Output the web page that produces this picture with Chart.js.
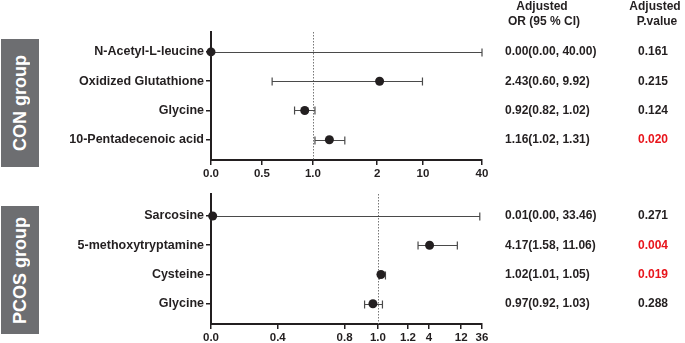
<!DOCTYPE html>
<html>
<head>
<meta charset="utf-8">
<script src="https://cdn.jsdelivr.net/npm/chart.js@4.4.1/dist/chart.umd.min.js"></script>
<style>
  body { margin: 0; background: #fff; }
  #wrap { position: relative; width: 685px; height: 343px; overflow: hidden; }
  canvas { position: absolute; left: 0; }
  .grp {
    position: absolute; left: 1px; width: 38px; background: #6d6e71;
    color: #fff; font: bold 18px "Liberation Sans", Arial, sans-serif;
    display: flex; align-items: center; justify-content: center;
  }
  .grp span { writing-mode: vertical-rl; transform: rotate(180deg); white-space: nowrap; }
</style>
</head>
<body>
<div id="wrap">
  <div class="grp" style="top:39px;height:128px"><span>CON group</span></div>
  <div class="grp" style="top:206px;height:128px"><span>PCOS group</span></div>
  <canvas id="conChart" width="685" height="190" style="top:0"></canvas>
  <canvas id="pcosChart" width="685" height="172" style="top:171px"></canvas>
</div>
<script>
// CON group
const conNames = ['N-Acetyl-L-leucine', 'Oxidized Glutathione', 'Glycine', '10-Pentadecenoic acid'];
const conOR = [0.00, 2.43, 0.92, 1.16];
const conLow = [0.00, 0.60, 0.82, 1.02];
const conHigh = [40.00, 9.92, 1.02, 1.31];
const conP = [0.161, 0.215, 0.124, 0.020];
const conTicks = [0, 0.5, 1, 2, 10, 40];
const conTickLabels = ['0.0', '0.5', '1.0', '2', '10', '40'];

// PCOS group
const pcosNames = ['Sarcosine', '5-methoxytryptamine', 'Cysteine', 'Glycine'];
const pcosOR = [0.01, 4.17, 1.02, 0.97];
const pcosLow = [0.00, 1.58, 1.01, 0.92];
const pcosHigh = [33.46, 11.06, 1.05, 1.03];
const pcosP = [0.271, 0.004, 0.019, 0.288];
const pcosTicks = [0, 0.4, 0.8, 1.0, 1.2, 4, 12, 36];
const pcosTickLabels = ['0.0', '0.4', '0.8', '1.0', '1.2', '4', '12', '36'];

// segmented x axis: [value, fraction of axis length]
const conSegments = [[0, 0], [1, 0.376], [1.35, 0.509], [2, 0.613], [10, 0.782], [40, 1]];
const pcosSegments = [[0, 0], [1, 0.616], [1.2, 0.727], [1.58, 0.764], [4, 0.804], [12, 0.923], [36, 1]];

const ink = '#231f20';
const font = '"Liberation Sans", Arial, sans-serif';

function segPos(v, segs) {
  for (let i = 0; i < segs.length - 1; i++) {
    const a = segs[i], b = segs[i + 1];
    if (v <= b[0]) return a[1] + (v - a[0]) / (b[0] - a[0]) * (b[1] - a[1]);
  }
  return 1;
}

function forestPlugin(low, high, or, p, segs, header) {
  return {
    id: 'forest',
    beforeDatasetsDraw(chart) {
      const ctx = chart.ctx, x = chart.scales.x, y = chart.scales.y, area = chart.chartArea;
      ctx.save();
      // reference line at OR = 1
      const x1 = Math.round(x.getPixelForValue(segPos(1, segs))) + 0.5;
      ctx.strokeStyle = '#777';
      ctx.lineWidth = 1;
      ctx.setLineDash([1.5, 1.5]);
      ctx.beginPath();
      ctx.moveTo(x1, area.top);
      ctx.lineTo(x1, area.bottom);
      ctx.stroke();
      ctx.setLineDash([]);
      // confidence intervals
      ctx.strokeStyle = '#4a4a4a';
      for (let i = 0; i < or.length; i++) {
        const yy = Math.round(y.getPixelForValue(i)) + 0.5;
        const xl = x.getPixelForValue(segPos(low[i], segs));
        const xh = x.getPixelForValue(segPos(high[i], segs));
        ctx.lineWidth = 1.2;
        ctx.beginPath();
        ctx.moveTo(xl, yy); ctx.lineTo(xh, yy);
        ctx.moveTo(xl, yy - 4); ctx.lineTo(xl, yy + 4);
        ctx.moveTo(xh, yy - 4); ctx.lineTo(xh, yy + 4);
        ctx.stroke();
      }
      ctx.restore();
    },
    afterDraw(chart) {
      const ctx = chart.ctx, y = chart.scales.y;
      ctx.save();
      ctx.font = 'bold 12px ' + font;
      ctx.textBaseline = 'middle';
      if (header) {
        ctx.fillStyle = ink;
        ctx.textAlign = 'center';
        ctx.fillText('Adjusted', 542, 7);
        ctx.fillText('OR (95 % CI)', 544, 22);
        ctx.fillText('Adjusted', 655, 7);
        ctx.fillText('P.value', 657, 22);
      }
      for (let i = 0; i < or.length; i++) {
        const yy = y.getPixelForValue(i);
        ctx.fillStyle = ink;
        ctx.textAlign = 'left';
        ctx.fillText(or[i].toFixed(2) + '(' + low[i].toFixed(2) + ', ' + high[i].toFixed(2) + ')', 505, yy);
        ctx.textAlign = 'center';
        ctx.fillStyle = p[i] < 0.05 ? '#e8141b' : ink;
        ctx.fillText(p[i].toFixed(3), 653, yy);
      }
      ctx.restore();
    }
  };
}

function makeChart(id, names, or, low, high, p, ticks, tickLabels, segs, yMin, yMax, padTop, xHeight, header) {
  const points = or.map((v, i) => ({ x: segPos(v, segs), y: i }));
  return new Chart(document.getElementById(id), {
    type: 'scatter',
    data: {
      datasets: [{
        data: points,
        pointRadius: 4.5,
        pointBackgroundColor: ink,
        pointBorderWidth: 0,
        clip: false
      }]
    },
    options: {
      responsive: false,
      animation: false,
      devicePixelRatio: 1,
      layout: { padding: { left: 40, right: 203, top: padTop, bottom: 0 } },
      plugins: { legend: { display: false }, tooltip: { enabled: false } },
      scales: {
        x: {
          type: 'linear', min: 0, max: 1,
          afterBuildTicks: s => { s.ticks = ticks.map(v => ({ value: segPos(v, segs) })); },
          afterFit: s => { s.height = xHeight; },
          ticks: {
            autoSkip: false, maxRotation: 0, padding: 2, color: ink,
            font: { family: font, size: 11.5, weight: 'bold' },
            callback: (v, i) => tickLabels[i]
          },
          grid: { drawOnChartArea: false, tickLength: 5, tickColor: ink, lineWidth: 1.5 },
          border: { color: ink, width: 2 }
        },
        y: {
          type: 'linear', reverse: true, min: yMin, max: yMax,
          afterBuildTicks: s => { s.ticks = names.map((n, i) => ({ value: i })); },
          afterFit: s => { s.width = 171; },
          ticks: {
            padding: 2, color: ink,
            font: { family: font, size: 12.5, weight: 'bold' },
            callback: v => names[v]
          },
          grid: { drawOnChartArea: false, tickLength: 5, tickColor: ink, lineWidth: 1.5 },
          border: { color: ink, width: 2 }
        }
      }
    },
    plugins: [forestPlugin(low, high, or, p, segs, header)]
  });
}

makeChart('conChart', conNames, conOR, conLow, conHigh, conP, conTicks, conTickLabels, conSegments, -0.68, 3.69, 32, 30, true);
makeChart('pcosChart', pcosNames, pcosOR, pcosLow, pcosHigh, pcosP, pcosTicks, pcosTickLabels, pcosSegments, -0.75, 3.69, 23, 19, false);
</script>
</body>
</html>
